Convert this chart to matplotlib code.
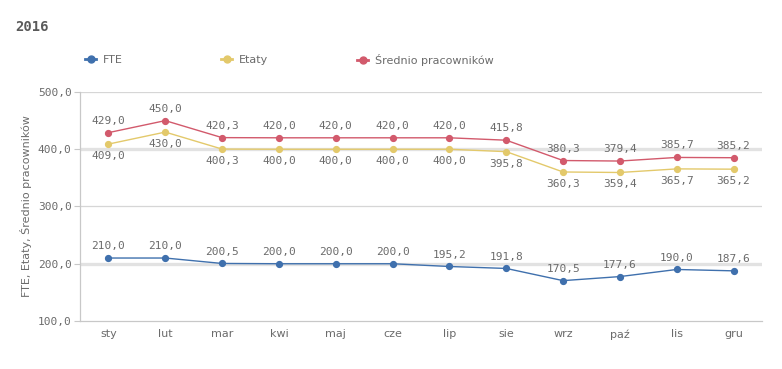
import matplotlib
matplotlib.use("Agg")
import matplotlib.pyplot as plt
from matplotlib.lines import Line2D

months = ["sty", "lut", "mar", "kwi", "maj", "cze", "lip", "sie", "wrz", "paź", "lis", "gru"]
fte = [210.0, 210.0, 200.5, 200.0, 200.0, 200.0, 195.2, 191.8, 170.5, 177.6, 190.0, 187.6]
etaty = [409.0, 430.0, 400.3, 400.0, 400.0, 400.0, 400.0, 395.8, 360.3, 359.4, 365.7, 365.2]
srednio = [429.0, 450.0, 420.3, 420.0, 420.0, 420.0, 420.0, 415.8, 380.3, 379.4, 385.7, 385.2]
yticks = [100, 200, 300, 400, 500]
series_names = ["FTE", "Etaty", "Średnio pracowników"]

c_fte = "#3f70ad"
c_et = "#e3c96b"
c_sr = "#d25a6c"
txt = "#6b6b6b"
mono = "DejaVu Sans Mono"

fig = plt.figure(figsize=(7.82, 3.69), dpi=100)
ax = fig.add_axes([80/782, 1-321/369, (762-80)/782, (321-92)/369])

x = list(range(len(months)))

# gridlines
for v in yticks:
    if v in (200, 400):
        ax.axhline(v, color="#e2e2e2", lw=2.4, zorder=0)
    elif v != 100:
        ax.axhline(v, color="#d6d6d6", lw=0.9, zorder=0)

ax.plot(x, fte, color=c_fte, lw=1.0, marker="o", ms=4.2, zorder=3)
ax.plot(x, etaty, color=c_et, lw=1.0, marker="o", ms=4.2, zorder=3)
ax.plot(x, srednio, color=c_sr, lw=1.0, marker="o", ms=4.2, zorder=3)

def fmt(v):
    return f"{v:.1f}".replace(".", ",")

for i in x:
    ax.annotate(fmt(fte[i]), (i, fte[i]), xytext=(0, 5), textcoords="offset points",
                ha="center", va="bottom", fontsize=8, color=txt, family=mono)
    ax.annotate(fmt(srednio[i]), (i, srednio[i]), xytext=(0, 5), textcoords="offset points",
                ha="center", va="bottom", fontsize=8, color=txt, family=mono)
    ax.annotate(fmt(etaty[i]), (i, etaty[i]), xytext=(0, -5), textcoords="offset points",
                ha="center", va="top", fontsize=8, color=txt, family=mono)

ax.set_xlim(-0.5, len(months) - 0.5)
ax.set_ylim(100, 500)
ax.set_yticks(yticks)
ax.set_yticklabels([fmt(v) for v in yticks], family=mono, fontsize=8, color=txt)
ax.set_xticks(x)
ax.set_xticklabels(months, fontsize=8, color=txt)
ax.tick_params(axis="x", length=0, pad=6)
ax.tick_params(axis="y", length=4, color="#c8c8c8", width=0.8, pad=2)
for s in ("top", "right"):
    ax.spines[s].set_visible(False)
for s in ("left", "bottom"):
    ax.spines[s].set_color("#c8c8c8")
    ax.spines[s].set_linewidth(0.9)
ax.set_ylabel("FTE, Etaty, Średnio pracowników", fontsize=8, color=txt, labelpad=4)

fig.text(15/782, 1-27/369, "2016", fontsize=10, fontweight="bold", color="#5a5a5a",
         family=mono, va="center", ha="left")

for name, col, xp in zip(series_names, [c_fte, c_et, c_sr], [85, 221, 357]):
    h = Line2D([0], [0], color=col, lw=2, marker="o", ms=5)
    fig.legend([h], [name], loc="center left", bbox_to_anchor=(xp/782, 1-60/369),
               frameon=False, fontsize=8, handlelength=1.0, handletextpad=0.6,
               labelcolor=txt, borderaxespad=0, borderpad=0)

fig.savefig("out.png", dpi=100)
